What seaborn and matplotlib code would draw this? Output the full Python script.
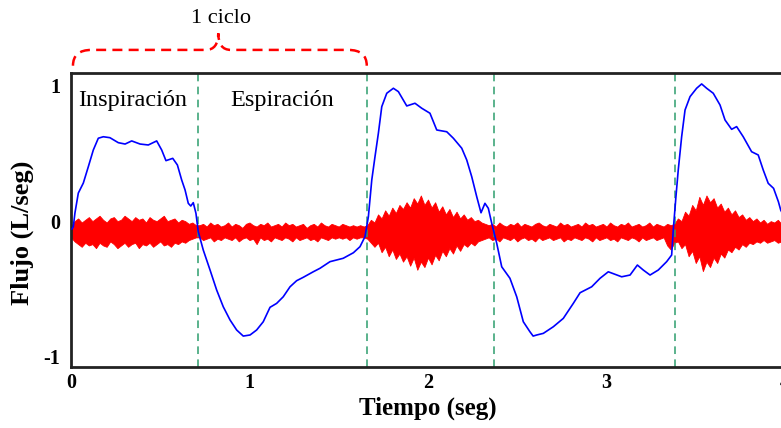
import seaborn as sns
import matplotlib.pyplot as plt
import matplotlib.path as mpath
import matplotlib.patches as mpatches
import pandas as pd

# Flujo respiratorio (azul)
t_flujo = [0.005, 0.013, 0.022, 0.041, 0.069, 0.097, 0.125, 0.153, 0.181, 0.218,
           0.265, 0.303, 0.340, 0.387, 0.433, 0.480, 0.508, 0.532, 0.570, 0.596,
           0.620, 0.639, 0.657, 0.671, 0.685, 0.700, 0.713, 0.741, 0.779, 0.816,
           0.853, 0.891, 0.928, 0.965, 1.003, 1.040, 1.077, 1.115, 1.152, 1.189,
           1.227, 1.264, 1.301, 1.357, 1.395, 1.451, 1.525, 1.582, 1.619, 1.647,
           1.666, 1.685, 1.703, 1.722, 1.741, 1.769, 1.806, 1.834, 1.881, 1.927,
           1.965, 2.011, 2.049, 2.105, 2.142, 2.189, 2.217, 2.245, 2.273, 2.297,
           2.319, 2.338, 2.357, 2.385, 2.413, 2.459, 2.497, 2.534, 2.571, 2.589,
           2.609, 2.646, 2.702, 2.758, 2.814, 2.852, 2.917, 2.964, 3.010, 3.085,
           3.132, 3.173, 3.206, 3.244, 3.290, 3.337, 3.365, 3.374, 3.389, 3.402,
           3.421, 3.440, 3.468, 3.505, 3.533, 3.561, 3.598, 3.636, 3.664, 3.701,
           3.729, 3.766, 3.813, 3.850, 3.878, 3.906, 3.936, 3.963, 3.976, 4.000]
flujo = [-0.060, -0.042, 0.059, 0.207, 0.281, 0.402, 0.526, 0.613, 0.624, 0.617,
         0.580, 0.570, 0.593, 0.570, 0.563, 0.593, 0.526, 0.447, 0.464, 0.415,
         0.304, 0.230, 0.131, 0.111, 0.136, 0.057, -0.079, -0.215, -0.363, -0.511,
         -0.635, -0.733, -0.807, -0.852, -0.844, -0.807, -0.746, -0.639, -0.610, -0.561,
         -0.487, -0.442, -0.417, -0.376, -0.350, -0.301, -0.276, -0.235, -0.190, -0.116,
         0.032, 0.304, 0.476, 0.650, 0.847, 0.946, 0.983, 0.958, 0.852, 0.872,
         0.835, 0.798, 0.674, 0.661, 0.613, 0.539, 0.452, 0.328, 0.180, 0.061,
         0.131, 0.094, -0.017, -0.165, -0.339, -0.424, -0.561, -0.746, -0.820, -0.852,
         -0.844, -0.832, -0.783, -0.721, -0.610, -0.531, -0.487, -0.424, -0.376, -0.413,
         -0.400, -0.326, -0.363, -0.400, -0.363, -0.301, -0.252, -0.067, 0.180, 0.378,
         0.624, 0.822, 0.921, 0.983, 1.015, 0.983, 0.946, 0.859, 0.748, 0.679,
         0.699, 0.624, 0.513, 0.489, 0.378, 0.279, 0.242, 0.143, 0.081, 0.020]

# Sonido respiratorio (rojo): envolvente leida de la figura cada 0.02 s,
# en centesimas, por encima y por debajo de la linea base
t_sonido = [round(0.02 * i, 2) for i in range(201)]
sonido_base = -0.081
sonido_sup = [4, 8, 10, 7, 9, 11, 8, 10, 12, 9, 7, 10, 11, 8, 9, 12, 10, 8, 11, 9,
              10, 7, 11, 9, 8, 10, 12, 8, 9, 10, 7, 9, 8, 6, 7, 5,
              5, 6, 4, 7, 5, 6, 4, 5, 7, 4, 6, 5, 3, 6, 7, 5, 4, 6, 5, 7,
              4, 5, 6, 4, 7, 5, 6, 4, 5, 6, 3, 5, 6, 4, 7, 5, 4, 6, 5, 4,
              6, 5, 4, 5, 4, 5, 4,
              5, 9, 7, 13, 10, 16, 12, 18, 14, 20, 17, 22, 18, 25, 21, 27, 20, 24,
              18, 22, 15, 19, 13, 17, 11, 15, 10, 13, 9, 11, 8, 9, 7, 6,
              5, 6, 4, 7, 5, 4, 6, 5, 7, 4, 6, 5, 4, 6, 7, 5, 4, 6, 5, 4,
              7, 5, 6, 4, 5, 6, 4, 7, 5, 6, 4, 5, 6, 4, 7, 5, 4, 6, 5, 7,
              4, 5, 6, 4, 5, 7, 4, 6, 5, 4, 6, 5,
              6, 10, 8, 15, 12, 20, 16, 26, 20, 27, 22, 25, 18, 21, 15, 18, 13, 16,
              11, 13, 9, 11, 8, 10, 7, 9, 6, 8, 7, 9, 6, 7]
sonido_inf = [4, 7, 9, 11, 8, 10, 9, 12, 8, 10, 11, 7, 9, 12, 10, 8, 11, 9, 8, 12,
              9, 10, 8, 11, 9, 7, 10, 9, 11, 8, 9, 7, 8, 6, 5, 4,
              4, 6, 5, 4, 7, 5, 6, 4, 5, 6, 4, 7, 5, 4, 6, 5, 9, 4, 6, 5,
              7, 4, 5, 6, 4, 5, 7, 4, 6, 5, 4, 6, 5, 7, 4, 5, 6, 4, 5, 4,
              5, 4, 6, 4, 5, 4, 4,
              5, 8, 11, 8, 15, 11, 18, 13, 20, 16, 22, 18, 25, 19, 28, 22, 26, 19,
              24, 17, 21, 14, 18, 12, 16, 10, 14, 9, 11, 8, 10, 7, 6, 5,
              4, 6, 5, 7, 4, 5, 6, 4, 7, 5, 4, 6, 5, 7, 4, 6, 5, 4, 6, 5,
              4, 7, 5, 6, 4, 5, 6, 4, 5, 7, 4, 6, 5, 4, 6, 5, 7, 4, 5, 6,
              4, 5, 7, 4, 6, 5, 4, 6, 5, 4, 10, 13,
              8, 7, 12, 9, 18, 14, 23, 18, 29, 22, 26, 19, 23, 16, 19, 13, 15, 11,
              13, 9, 11, 8, 9, 7, 8, 6, 8, 7, 6, 8, 7, 6]

# Limites de fases (lineas verdes)
fases = [0.711, 1.658, 2.370, 3.384]

df = pd.DataFrame({'Tiempo': t_flujo, 'Flujo': flujo})
sonido = pd.DataFrame({'t': t_sonido,
                       'sup': [sonido_base + a / 100 for a in sonido_sup],
                       'inf': [sonido_base - a / 100 for a in sonido_inf]})

sns.set_style("white")
plt.rcParams['font.family'] = ['Liberation Serif', 'DejaVu Serif']
plt.rcParams['axes.unicode_minus'] = False
plt.rcParams['text.color'] = 'black'
plt.rcParams['axes.labelcolor'] = 'black'

fig = plt.figure(figsize=(7.81, 4.28), dpi=100)
ax = fig.add_axes([71 / 781, 61 / 428, 714 / 781, 294 / 428])

ax.fill_between(sonido['t'], sonido['inf'], sonido['sup'], color='#ff0000',
                linewidth=0.6, edgecolor='#ff0000', zorder=1)
for x in fases:
    ax.axvline(x, color='#2e9e6e', linestyle=(0, (5, 3.5)), linewidth=1.1, zorder=2)
sns.lineplot(data=df, x='Tiempo', y='Flujo', color='#0000ff', linewidth=1.2,
             ax=ax, zorder=3)

ax.set_xlim(0, 4)
ax.set_ylim(-1.081, 1.096)
ax.set_xticks([0, 1, 2, 3, 4])
ax.set_yticks([-1, 0, 1])
ax.set_yticklabels(['-1', '0', '1'])
ax.tick_params(direction='in', length=6, width=1.2, colors='#222222',
               labelsize=14.5, labelcolor='black')
ax.tick_params(axis='x', pad=4)
ax.tick_params(axis='y', pad=8)
for lab in ax.get_xticklabels() + ax.get_yticklabels():
    lab.set_fontweight('bold')

for s in ['left', 'top', 'bottom']:
    ax.spines[s].set_linewidth(2)
    ax.spines[s].set_color('#222222')
ax.spines['right'].set_visible(False)

ax.set_xlabel('Tiempo (seg)', fontsize=18, fontweight='bold', labelpad=3)
ax.set_ylabel('Flujo (L/seg)', fontsize=19, fontweight='bold')
ax.yaxis.set_label_coords(-0.052, 0.456)

ax.text(0.039, 0.896, 'Inspiración', fontsize=17.5, ha='left', va='center')
ax.text(0.89, 0.896, 'Espiración', fontsize=17.5, ha='left', va='center')

# Llave "1 ciclo"
P = mpath.Path
verts = [(0.011, 1.150), (0.011, 1.267), (0.115, 1.267),
         (0.755, 1.267),
         (0.825, 1.267), (0.825, 1.390),
         (0.825, 1.267), (0.895, 1.267),
         (1.553, 1.267),
         (1.657, 1.267), (1.657, 1.150)]
codes = [P.MOVETO, P.CURVE3, P.CURVE3, P.LINETO, P.CURVE3, P.CURVE3,
         P.CURVE3, P.CURVE3, P.LINETO, P.CURVE3, P.CURVE3]
llave = mpatches.PathPatch(P(verts, codes), fill=False, edgecolor='#ff0000',
                           linewidth=1.8, linestyle=(0, (4, 2.5)), clip_on=False)
ax.add_patch(llave)
ax.text(0.84, 1.496, '1 ciclo', fontsize=16, ha='center', va='center')

plt.savefig('out.png', dpi=100)
